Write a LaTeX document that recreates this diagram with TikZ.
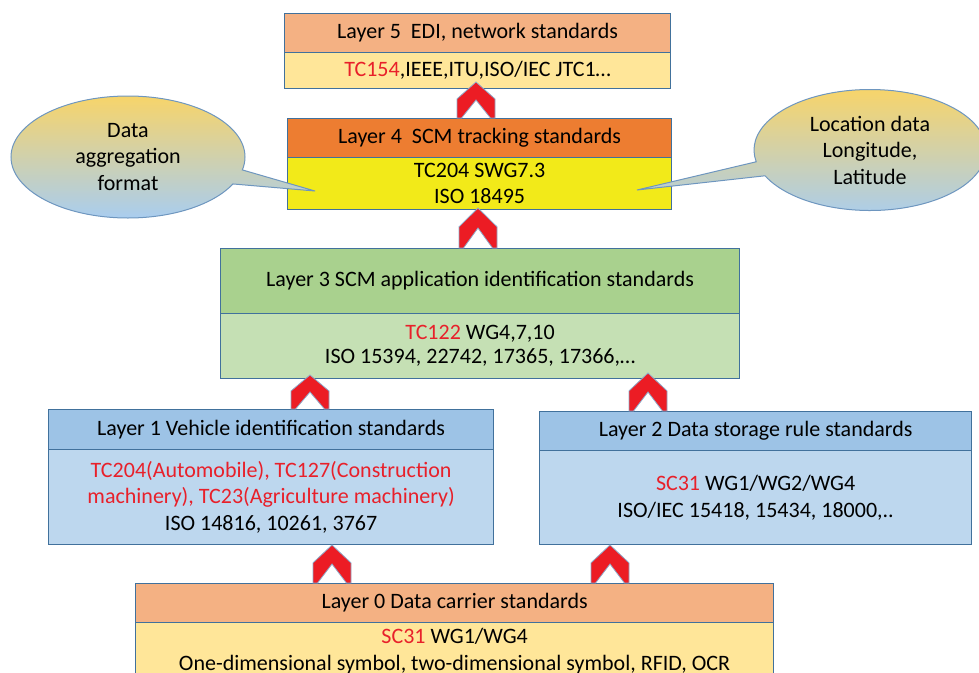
\documentclass[tikz,border=0pt]{standalone}
\usepackage{fontspec}
\setmainfont{Carlito}
\usetikzlibrary{shapes.callouts}
\definecolor{bord}{HTML}{41719C}
\definecolor{hOrange}{HTML}{F4B183}
\definecolor{bYellow}{HTML}{FFE699}
\definecolor{hDark}{HTML}{ED7D31}
\definecolor{bBright}{HTML}{F2EA19}
\definecolor{hGreen}{HTML}{A9D18E}
\definecolor{bGreen}{HTML}{C5E0B4}
\definecolor{hBlue}{HTML}{9DC3E6}
\definecolor{bBlue}{HTML}{BDD7EE}
\definecolor{tred}{HTML}{E8202A}
\definecolor{chevred}{HTML}{EC1C24}
\definecolor{chevbord}{HTML}{8FA9C8}
\definecolor{calltop}{HTML}{F7D46A}
\definecolor{callbot}{HTML}{A9CDEF}
\definecolor{callbord}{HTML}{6E96BF}
\newcommand{\rt}[1]{\textcolor{tred}{#1}}
\tikzset{
  x=1pt, y=-1pt,
  boxpart/.style={draw=bord, line width=1.2pt, anchor=north west, inner sep=0pt,
    align=center, font=\fontsize{22}{26.5}\selectfont},
  bubble/.style={ellipse callout, draw=callbord, line width=1pt,
    top color=calltop, bottom color=callbot, align=center,
    font=\fontsize{22}{26.5}\selectfont, callout pointer arc=14},
  chev/.pic={
    \fill[chevred, draw=chevbord, line width=0.8pt]
      (-19,0) -- (-19,-0.53*\chevh) -- (0,-\chevh) -- (19,-0.53*\chevh) -- (19,0)
      -- (14.5,0) -- (0,-0.5*\chevh) -- (-14.5,0) -- cycle;
  }
}
\newcommand{\chevh}{34}
\begin{document}
\begin{tikzpicture}
\useasboundingbox (0,0) rectangle (979,672);
\clip (0,0) rectangle (979,672);

% Layer 5
\node[boxpart, fill=hOrange, minimum width=386pt, minimum height=39pt] (L5h) at (284,13)
  {Layer 5\ \ EDI, network standards};
\node[boxpart, fill=bYellow, minimum width=386pt, minimum height=36pt] (L5b) at (284,52)
  {\rt{TC154},IEEE,ITU,ISO/IEC JTC1…};

% Layer 4
\node[boxpart, fill=hDark, minimum width=384pt, minimum height=39pt] (L4h) at (287,118)
  {Layer 4\ \ SCM tracking standards};
\node[boxpart, fill=bBright, minimum width=384pt, minimum height=52pt] (L4b) at (287,157)
  {TC204 SWG7.3\\ISO 18495};

% Layer 3
\node[boxpart, fill=hGreen, minimum width=519pt, minimum height=65pt] (L3h) at (220,248)
  {Layer 3 SCM application identification standards};
\node[boxpart, fill=bGreen, minimum width=519pt, minimum height=65pt, font=\fontsize{22}{24}\selectfont] (L3b) at (220,313)
  {\rt{TC122} WG4,7,10\\ISO 15394, 22742, 17365, 17366,…};

% Layer 1
\node[boxpart, fill=hBlue, minimum width=445pt, minimum height=40pt] (L1h) at (48,409)
  {Layer 1 Vehicle identification standards};
\node[boxpart, fill=bBlue, minimum width=445pt, minimum height=95pt] (L1b) at (48,449)
  {\rt{TC204(Automobile), TC127(Construction}\\\rt{machinery), TC23(Agriculture machinery)}\\ISO 14816, 10261, 3767};

% Layer 2
\node[boxpart, fill=hBlue, minimum width=432pt, minimum height=39pt] (L2h) at (539,411)
  {Layer 2 Data storage rule standards};
\node[boxpart, fill=bBlue, minimum width=432pt, minimum height=94pt] (L2b) at (539,450)
  {\rt{SC31} WG1/WG2/WG4\\ISO/IEC 15418, 15434, 18000,..};

% Layer 0
\node[boxpart, fill=hOrange, minimum width=638pt, minimum height=39pt] (L0h) at (135,583)
  {Layer 0 Data carrier standards};
\node[boxpart, fill=bYellow, minimum width=638pt, minimum height=57pt] (L0b) at (135,622)
  {\rt{SC31} WG1/WG4\\One-dimensional symbol, two-dimensional symbol, RFID, OCR};

% chevrons
\renewcommand{\chevh}{36}
\pic at (476,118) {chev};
\renewcommand{\chevh}{40}
\pic at (478,248) {chev};
\renewcommand{\chevh}{34}
\pic at (310,409) {chev};
\renewcommand{\chevh}{38}
\pic at (648,411) {chev};
\renewcommand{\chevh}{38}
\pic at (332,583) {chev};
\pic at (610,583) {chev};

% callouts
\node[bubble, minimum width=234pt, minimum height=122pt, callout absolute pointer={(315,191)}] (cL) at (128,157)
  {Data\\aggregation\\format};
\node[bubble, minimum width=232pt, minimum height=121pt, callout absolute pointer={(637,190)}] (cR) at (870,150)
  {Location data\\Longitude,\\Latitude};
\end{tikzpicture}
\end{document}
